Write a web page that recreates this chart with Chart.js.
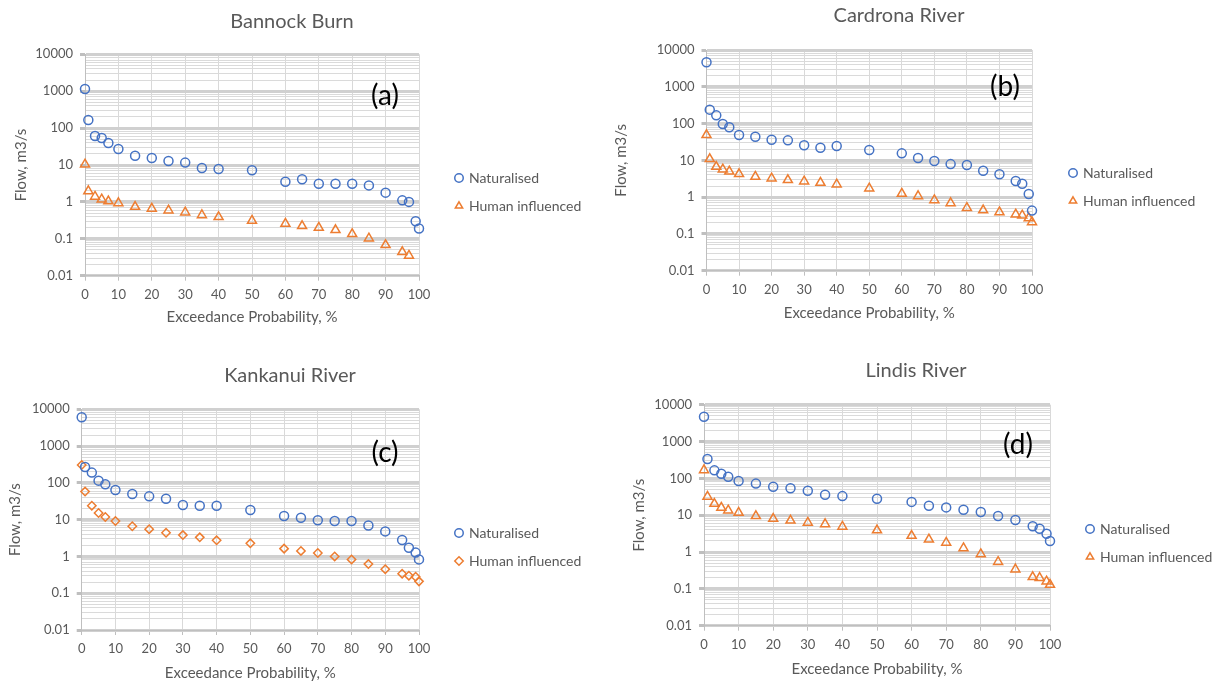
<!DOCTYPE html>
<html>
<head>
<meta charset="utf-8">
<script src="https://cdn.jsdelivr.net/npm/chart.js@4.4.1/dist/chart.umd.min.js"></script>
<style>
  body { margin: 0; background: #fff; width: 1214px; height: 681px; overflow: hidden; position: relative; font-family: Lato, sans-serif; }
  canvas { position: absolute; }
  .tag { position: absolute; font: 28px Lato, sans-serif; color: #000; transform: translate(-50%, -50%); white-space: nowrap; }
</style>
</head>
<body>
<script>
// exceedance probabilities shared by all four gauges
const exceedance = [0, 1, 3, 5, 7, 10, 15, 20, 25, 30, 35, 40, 50, 60, 65, 70, 75, 80, 85, 90, 95, 97, 99, 100];
const yTickLabels = [0.01, 0.1, 1, 10, 100, 1000, 10000];

const bannockNat = [1150, 166, 61, 54, 39.5, 27, 17.9, 15.5, 12.8, 11.6, 8.3, 7.8, 7.2, 3.5, 4.1, 3.1, 3.1, 3.1, 2.8, 1.78, 1.1, 1.0, 0.30, 0.19];
const bannockHum = [10.4, 1.97, 1.39, 1.17, 1.04, 0.93, 0.74, 0.66, 0.59, 0.52, 0.44, 0.39, 0.31, 0.257, 0.222, 0.2, 0.173, 0.135, 0.103, 0.068, 0.044, 0.035, null, null];

const cardronaNat = [4620, 239, 167, 97, 79, 49, 44, 36.5, 35, 25.6, 22, 24.5, 19.1, 15.5, 11.6, 9.6, 7.9, 7.5, 5.2, 4.2, 2.74, 2.32, 1.22, 0.43];
const cardronaHum = [49, 10.9, 6.7, 5.7, 5.0, 4.25, 3.6, 3.24, 2.92, 2.69, 2.47, 2.22, 1.73, 1.24, 1.07, 0.83, 0.69, 0.51, 0.44, 0.39, 0.34, 0.32, 0.27, 0.21];

const kankanuiNat = [6050, 270, 190, 115, 91, 64, 50, 43, 37, 25, 24, 24, 18.3, 12.6, 11.3, 9.6, 9.2, 9.2, 6.9, 4.8, 2.8, 1.73, 1.27, 0.83];
const kankanuiHum = [306, 58, 24, 15.2, 11.8, 9.2, 6.6, 5.5, 4.4, 3.8, 3.3, 2.74, 2.27, 1.63, 1.41, 1.24, 1.0, 0.83, 0.62, 0.45, 0.34, 0.30, 0.28, 0.21];

const lindisNat = [4720, 335, 165, 134, 111, 85, 72, 59, 54, 46, 36, 33, 28, 23, 18.1, 16.3, 14.1, 12.2, 9.5, 7.4, 5.0, 4.3, 3.15, 1.99];
const lindisHum = [168, 32, 20.5, 16, 13.5, 11.7, 9.5, 8.0, 7.2, 6.3, 5.75, 4.9, 3.9, 2.77, 2.2, 1.8, 1.28, 0.88, 0.54, 0.34, 0.21, 0.2, 0.16, 0.13];

const blue = '#4472C4';
const orange = '#ED7D31';
const textGrey = '#595959';

Chart.defaults.font.family = 'Lato, sans-serif';
Chart.defaults.color = textGrey;

// minor log gridlines 1..9 in every decade
const yGridValues = [];
yTickLabels.forEach((t, i) => {
    if (i === yTickLabels.length - 1) { yGridValues.push(t); return; }
    for (let k = 1; k <= 9; k++) yGridValues.push(t * k);
});
const isMajor = v => yTickLabels.some(t => Math.abs(t - v) / t < 1e-6);

// page layout of each panel (pixels)
const panels = [
    { title: 'Bannock Burn', tag: '(a)', nat: bannockNat, hum: bannockHum, humStyle: 'triangle',
      left: -20, top: 0, area: { l: 85, r: 419, t: 54.3, b: 275.7 },
      titleX: 292, titleY: 22, tagX: 385, tagY: 94, legendX: 459, legendY: 178, yTitleX: 21, xTitleY: 317 },
    { title: 'Cardrona River', tag: '(b)', nat: cardronaNat, hum: cardronaHum, humStyle: 'triangle',
      left: 600, top: 0, area: { l: 706.5, r: 1032, t: 50, b: 270.7 },
      titleX: 899, titleY: 16, tagX: 1005, tagY: 85, legendX: 1073, legendY: 173, yTitleX: 621.5, xTitleY: 313 },
    { title: 'Kankanui River', tag: '(c)', nat: kankanuiNat, hum: kankanuiHum, humStyle: 'rectRot',
      left: -20, top: 340, area: { l: 81.7, r: 419, t: 409.3, b: 630 },
      titleX: 290, titleY: 375.7, tagX: 385, tagY: 451, legendX: 459, legendY: 533, yTitleX: 15, xTitleY: 673 },
    { title: 'Lindis River', tag: '(d)', nat: lindisNat, hum: lindisHum, humStyle: 'triangle',
      left: 620, top: 340, area: { l: 704, r: 1050, t: 404.7, b: 625.7 },
      titleX: 916, titleY: 371, tagX: 1018, tagY: 443, legendX: 1090, legendY: 529, yTitleX: 639, xTitleY: 669 }
];

const titleSize = 20;
const axisTitleSize = 15;
const legendSize = 14;

// puts the legend at a fixed spot and reserves a fixed width for it
const legendSpot = {
    id: 'legendSpot',
    beforeInit(chart, args, opts) {
        const fit = chart.legend.fit;
        chart.legend.fit = function () {
            fit.call(this);
            this.width = opts.width;
        };
    },
    afterLayout(chart, args, opts) {
        const lg = chart.legend;
        const pad = lg.options.labels.padding;
        lg.left = opts.x - pad - lg.options.labels.boxWidth / 2;
        lg.right = lg.left + lg.width;
        lg.top = opts.y - pad - legendSize / 2;
        lg.bottom = lg.top + lg.height;
    }
};

function toPoints(values) {
    return exceedance.map((x, i) => ({ x: x, y: values[i] }));
}

function buildPanel(p) {
    const cw = Math.round(2 * (p.titleX - p.left));
    const ch = Math.ceil(p.xTitleY - p.top + 10);
    const yAxisW = p.area.l - p.left;
    const legendW = p.left + cw - p.area.r;
    const titleLh = titleSize * 1.2;
    const axisLh = axisTitleSize * 1.2;
    const titlePadTop = p.titleY - p.top - titleLh / 2;
    const titlePadBottom = p.area.t - p.top - titlePadTop - titleLh;
    const xAxisH = ch - (p.area.b - p.top);
    const xTitlePad = p.top + ch - p.xTitleY - axisLh / 2;
    const yTitlePad = p.yTitleX - p.left - axisLh / 2;

    const canvas = document.createElement('canvas');
    canvas.width = cw;
    canvas.height = ch;
    canvas.style.left = p.left + 'px';
    canvas.style.top = p.top + 'px';
    canvas.style.width = cw + 'px';
    canvas.style.height = ch + 'px';
    document.body.appendChild(canvas);

    const tag = document.createElement('div');
    tag.className = 'tag';
    tag.textContent = p.tag;
    tag.style.left = p.tagX + 'px';
    tag.style.top = p.tagY + 'px';
    document.body.appendChild(tag);

    new Chart(canvas.getContext('2d'), {
        type: 'scatter',
        data: {
            datasets: [{
                label: 'Naturalised',
                data: toPoints(p.nat),
                pointStyle: 'circle',
                pointRadius: 4.5,
                pointBorderWidth: 1.5,
                pointBorderColor: blue,
                borderColor: blue,
                pointBackgroundColor: 'rgba(0,0,0,0)',
                backgroundColor: 'rgba(0,0,0,0)',
                clip: false
            }, {
                label: 'Human influenced',
                data: toPoints(p.hum),
                pointStyle: p.humStyle,
                pointRadius: p.humStyle === 'rectRot' ? 4.2 : 5.2,
                pointBorderWidth: 1.5,
                pointBorderColor: orange,
                borderColor: orange,
                pointBackgroundColor: 'rgba(0,0,0,0)',
                backgroundColor: 'rgba(0,0,0,0)',
                clip: false
            }]
        },
        options: {
            responsive: false,
            animation: false,
            devicePixelRatio: 1,
            layout: { padding: 0 },
            plugins: {
                title: {
                    display: true,
                    text: p.title,
                    color: textGrey,
                    font: { size: titleSize, weight: 'normal' },
                    padding: { top: titlePadTop, bottom: titlePadBottom }
                },
                legend: {
                    position: 'right',
                    align: 'start',
                    labels: { usePointStyle: true, boxWidth: 6, boxHeight: 6, padding: 14, color: textGrey, font: { size: legendSize } }
                },
                tooltip: { enabled: false },
                legendSpot: { width: legendW, x: p.legendX - p.left, y: p.legendY - p.top }
            },
            scales: {
                x: {
                    type: 'linear',
                    min: 0,
                    max: 100,
                    afterFit: s => { s.height = xAxisH; },
                    ticks: { stepSize: 10, padding: 6, maxRotation: 0, autoSkip: false, color: textGrey, font: { size: 13 } },
                    grid: { color: '#d9d9d9', tickLength: 5, tickColor: '#bfbfbf' },
                    border: { color: '#bfbfbf' },
                    title: { display: true, text: 'Exceedance Probability, %', color: textGrey, font: { size: axisTitleSize },
                             padding: { top: 0, bottom: xTitlePad } }
                },
                y: {
                    type: 'logarithmic',
                    min: 0.01,
                    max: 10000,
                    afterBuildTicks: s => { s.ticks = yGridValues.map(v => ({ value: v })); },
                    afterFit: s => { s.width = yAxisW; },
                    ticks: { autoSkip: false, padding: 7, color: textGrey, font: { size: 13 },
                             callback: v => isMajor(v) ? String(v) : '' },
                    grid: {
                        color: c => (c.tick && isMajor(c.tick.value)) ? '#d0d0d0' : '#dadada',
                        lineWidth: c => (c.tick && isMajor(c.tick.value)) ? 3 : 1,
                        tickLength: 5,
                        tickColor: c => (c.tick && isMajor(c.tick.value)) ? '#bfbfbf' : 'rgba(0,0,0,0)'
                    },
                    border: { color: '#bfbfbf' },
                    title: { display: true, text: 'Flow, m3/s', color: textGrey, font: { size: axisTitleSize },
                             padding: { top: yTitlePad, bottom: 0 } }
                }
            }
        },
        plugins: [legendSpot]
    });
}

panels.forEach(buildPanel);
</script>
</body>
</html>
